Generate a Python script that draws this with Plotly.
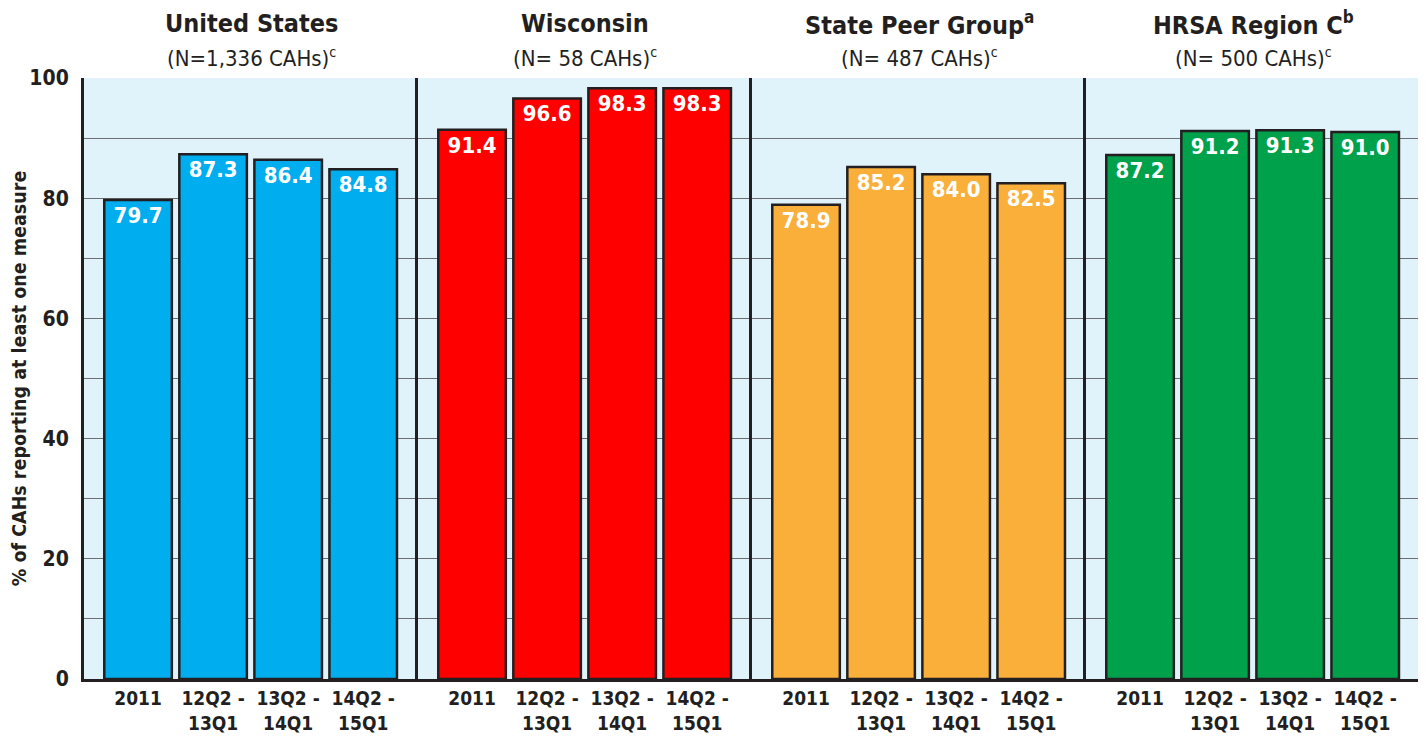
import plotly.graph_objects as go
from plotly.subplots import make_subplots

periods = ["2011", "12Q2 -<br>13Q1", "13Q2 -<br>14Q1", "14Q2 -<br>15Q1"]
groups = ["United States", "Wisconsin", "State Peer Group", "HRSA Region C"]
group_marks = ["", "", "a", "b"]
subtitles = ["(N=1,336 CAHs)", "(N= 58 CAHs)", "(N= 487 CAHs)", "(N= 500 CAHs)"]
subtitle_mark = "c"
us_values = [79.7, 87.3, 86.4, 84.8]
wi_values = [91.4, 96.6, 98.3, 98.3]
peer_values = [78.9, 85.2, 84.0, 82.5]
hrsa_values = [87.2, 91.2, 91.3, 91.0]
colors = ["#00AEEF", "#FF0000", "#FAAF3B", "#00A14B"]

series = [us_values, wi_values, peer_values, hrsa_values]
FONT = "DejaVu Sans Condensed, Liberation Sans Narrow, sans-serif"
DARK = "#231F20"


def sup(mark, size):
    if not mark:
        return ""
    return f"<sup><span style='font-size:{size}px'>{mark}</span></sup>"


fig = make_subplots(rows=1, cols=4, shared_yaxes=True, horizontal_spacing=0)
for i, vals in enumerate(series):
    fig.add_trace(go.Bar(
        x=list(range(4)), y=vals,
        marker=dict(color=colors[i], line=dict(color=DARK, width=2.5)),
        text=[f"<b>{v:.1f}</b>" for v in vals], textposition="inside",
        insidetextanchor="end", textangle=0, constraintext="none",
        textfont=dict(color="white", size=22, family=FONT),
        showlegend=False, hoverinfo="skip", width=0.9,
    ), row=1, col=i + 1)
    fig.update_xaxes(
        row=1, col=i + 1, range=[-0.72, 3.73], tickvals=list(range(4)),
        ticktext=[f"<b>{p}</b>" for p in periods],
        tickfont=dict(size=19, family=FONT, color=DARK),
        showline=True, linecolor=DARK, linewidth=3, showgrid=False,
        ticks="", fixedrange=True, automargin=False,
    )
    fig.update_yaxes(
        row=1, col=i + 1, range=[0, 100], dtick=20,
        showline=True, mirror=(i == 3), linecolor=DARK, linewidth=3,
        showgrid=True, gridcolor="#6D6E71", gridwidth=1,
        minor=dict(dtick=10, showgrid=True, gridcolor="#6D6E71", gridwidth=1),
        zeroline=False, ticks="", automargin=False,
    )
    xc = (i + 0.5) / 4
    fig.add_annotation(x=xc, y=1.0, xref="paper", yref="paper", yshift=55,
                       text=f"<b>{groups[i]}{sup(group_marks[i], 17)}</b>",
                       showarrow=False, xanchor="center",
                       font=dict(size=25, family=FONT, color=DARK), yanchor="middle")
    fig.add_annotation(x=xc, y=1.0, xref="paper", yref="paper", yshift=21,
                       text=f"{subtitles[i]}{sup(subtitle_mark, 14)}",
                       showarrow=False, xanchor="center",
                       font=dict(size=22, family=FONT, color=DARK), yanchor="middle")

fig.update_yaxes(row=1, col=1, tickvals=[0, 20, 40, 60, 80, 100],
                 ticktext=[f"<b>{v}</b>" for v in [0, 20, 40, 60, 80, 100]],
                 tickfont=dict(size=21, family=FONT, color=DARK),
                 ticklabelstandoff=8,
                 title=dict(text="<b>% of CAHs reporting at least one measure</b>",
                            font=dict(size=19.5, family=FONT, color=DARK), standoff=12))

fig.update_layout(
    width=1418, height=732, bargap=0.1,
    margin=dict(l=76, r=6, t=70, b=61, autoexpand=False),
    paper_bgcolor="white", plot_bgcolor="#E0F3FA",
    font=dict(family=FONT, color=DARK),
)
fig.write_html("out.html")
